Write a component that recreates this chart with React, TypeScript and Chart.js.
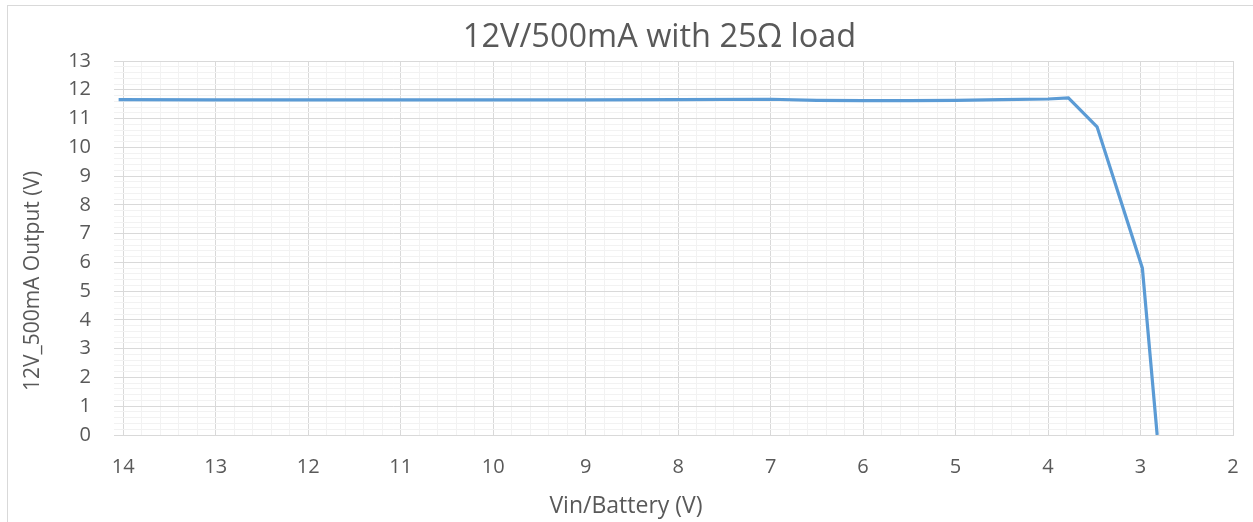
import { useEffect, useRef } from 'react';
import { Chart, registerables } from 'chart.js';

Chart.register(...registerables);

const chartTitle = '12V/500mA with 25Ω load';
const xAxisTitle = 'Vin/Battery (V)';
const yAxisTitle = '12V_500mA Output (V)';

// Vin / battery voltage (V)
const vin = [14.05, 13, 12, 11, 10, 9, 8, 7, 6.5, 6, 5.5, 5, 4.5, 4, 3.78, 3.47, 2.98, 2.82];
// 12V_500mA output (V)
const vout = [11.66, 11.65, 11.65, 11.65, 11.65, 11.65, 11.66, 11.67, 11.63, 11.62, 11.62, 11.63, 11.66, 11.68, 11.72, 10.71, 5.8, 0];

const xMin = 2;
const xMax = 14.1;
const yMin = 0;
const yMax = 13;
const minorStep = 0.2;

const W = 1253;
const H = 522;
const TEXT = '#595959';
const MAJOR = '#d9d9d9';
const MINOR = '#f2f2f2';
const FONT = "'Open Sans', 'Noto Sans', sans-serif";

const isMajor = (v: number) => Math.abs(v - Math.round(v)) < 1e-6;
const gridColor = (ctx: any) => (ctx.tick && isMajor(ctx.tick.value) ? MAJOR : MINOR);

const decor = {
  id: 'decor',
  beforeDraw(chart: any) {
    const c = chart.ctx;
    c.save();
    c.fillStyle = '#ffffff';
    c.fillRect(0, 0, W, H);
    c.strokeStyle = MAJOR;
    c.lineWidth = 1;
    c.strokeRect(7.5, 5.5, 1400, 700);
    c.restore();
  },
  afterDraw(chart: any) {
    const c = chart.ctx;
    c.save();
    c.fillStyle = TEXT;
    c.textAlign = 'center';
    c.textBaseline = 'middle';
    c.font = `32.5px ${FONT}`;
    c.fillText(chartTitle, 659.5, 38);
    c.font = `23px ${FONT}`;
    c.fillText(xAxisTitle, 626, 506);
    c.translate(33, 281);
    c.rotate(-Math.PI / 2);
    c.font = `21px ${FONT}`;
    c.fillText(yAxisTitle, 0, 0);
    c.restore();
  },
};

export default function App() {
  const ref = useRef<HTMLCanvasElement | null>(null);

  useEffect(() => {
    const canvas = ref.current;
    if (!canvas) return;
    const tickFont = { family: FONT, size: 20 };
    const chart = new Chart(canvas, {
      type: 'line',
      data: {
        datasets: [
          {
            data: vin.map((x, i) => ({ x, y: vout[i] })),
            borderColor: '#5B9BD5',
            backgroundColor: '#5B9BD5',
            borderWidth: 3.2,
            pointRadius: 0,
            tension: 0,
            fill: false,
          },
        ],
      },
      options: {
        animation: false,
        responsive: false,
        maintainAspectRatio: false,
        layout: { padding: { left: 0, top: 61, right: 20, bottom: 0 } },
        plugins: {
          legend: { display: false },
          title: { display: false },
          tooltip: { enabled: false },
        },
        scales: {
          x: {
            type: 'linear',
            reverse: true,
            min: xMin,
            max: xMax,
            position: 'bottom',
            afterFit: (s: any) => {
              s.height = 87;
              s.paddingLeft = 0;
              s.paddingRight = 0;
            },
            grid: { color: gridColor, lineWidth: 1, drawTicks: false },
            border: { display: true, color: MAJOR, width: 1 },
            ticks: {
              stepSize: minorStep,
              includeBounds: false,
              maxTicksLimit: 1000,
              autoSkip: false,
              maxRotation: 0,
              minRotation: 0,
              padding: 20,
              color: TEXT,
              font: tickFont,
              callback: (v: any) => (isMajor(Number(v)) ? String(Math.round(Number(v))) : ''),
            },
          },
          y: {
            type: 'linear',
            min: yMin,
            max: yMax,
            afterFit: (s: any) => {
              s.width = 114;
              s.paddingTop = 0;
              s.paddingBottom = 0;
            },
            grid: { color: gridColor, lineWidth: 1, drawTicks: false },
            border: { display: false },
            ticks: {
              stepSize: minorStep,
              includeBounds: false,
              maxTicksLimit: 1000,
              autoSkip: false,
              padding: 23,
              color: TEXT,
              font: tickFont,
              callback: (v: any) => (isMajor(Number(v)) ? String(Math.round(Number(v))) : ''),
            },
          },
        },
      },
      plugins: [decor],
    } as any);
    return () => chart.destroy();
  }, []);

  return (
    <div style={{ position: 'absolute', left: 0, top: 0, width: W, height: H, background: '#fff' }}>
      <canvas ref={ref} width={W} height={H} style={{ display: 'block', width: W, height: H }} />
    </div>
  );
}
